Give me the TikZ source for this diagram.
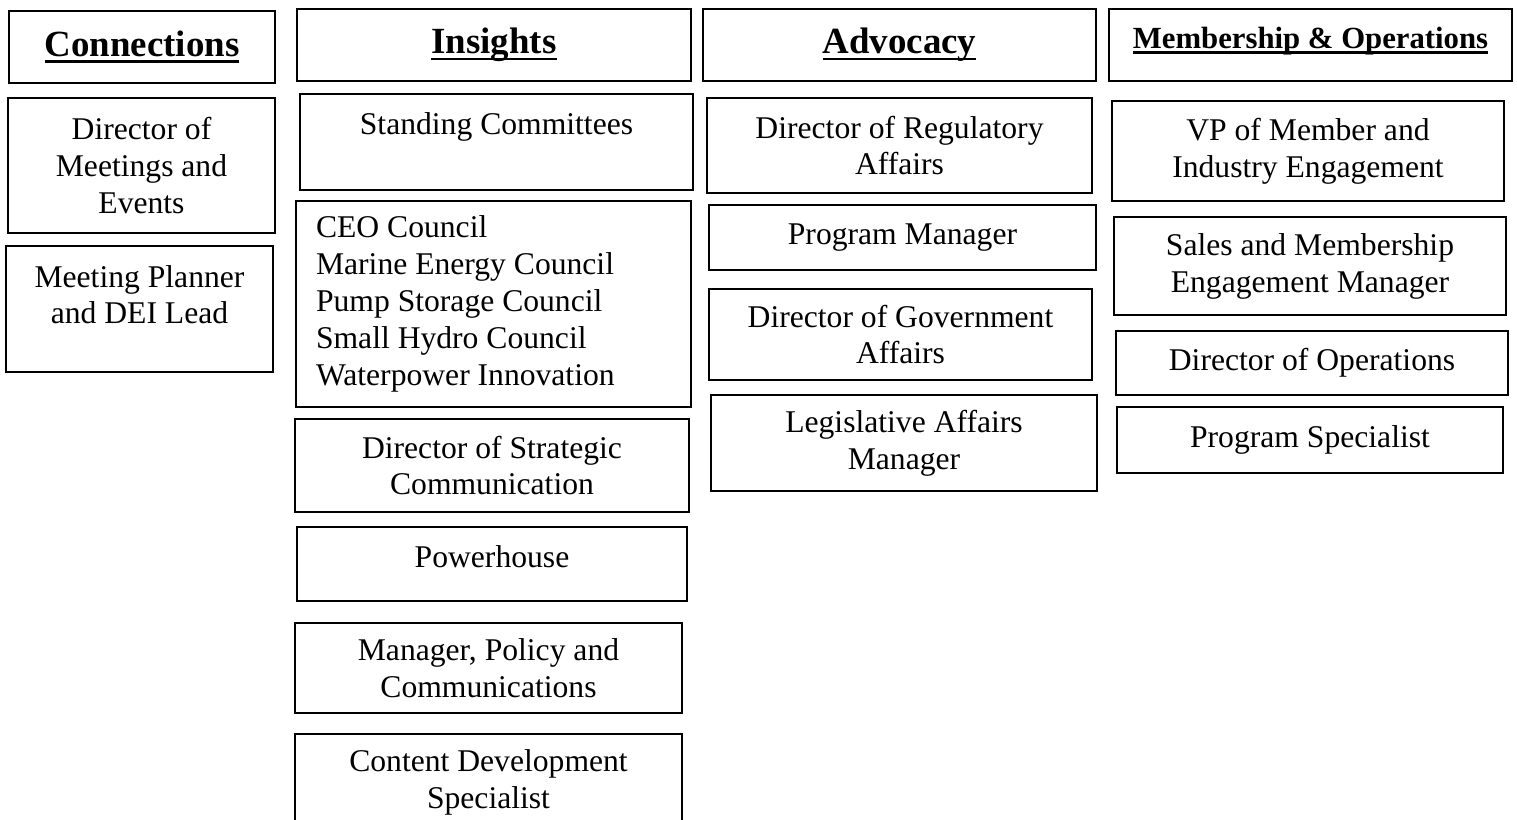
\documentclass[tikz,border=0pt]{standalone}
\usepackage{fontspec}
\setmainfont{Liberation Serif}
\newcommand{\hul}[1]{\setbox0=\hbox{#1}\rlap{\rule[-0.18em]{\wd0}{0.075em}}\box0}

\begin{document}
\begin{tikzpicture}[x=0.02cm, y=-0.02cm,
  cell/.style={draw, line width=1.2pt, inner sep=0pt, align=center,
    font=\fontsize{18}{21}\selectfont},
  headcell/.style={cell, minimum height=1.44cm,
    font=\bfseries\fontsize{21}{25}\selectfont}]
  \useasboundingbox (0,0) rectangle (1517,820);
  % Connections
  \node[headcell, minimum width=5.32cm] (conn) at (142,47) {\hul{Connections}};
  \node[cell, minimum width=5.34cm, minimum height=2.70cm] (dirmeet) at (141.5,165.5)
    {Director of\\Meetings and\\Events};
  \node[cell, minimum width=5.34cm, minimum height=2.52cm, text depth=0.58cm] (planner) at (139.5,309)
    {Meeting Planner\\and DEI Lead};
  % Insights
  \node[headcell, minimum width=7.88cm] (insights) at (494,45) {\hul{Insights}};
  \node[cell, minimum width=7.86cm, minimum height=1.92cm, text depth=0.74cm] (stand) at (496.5,142)
    {Standing Committees};
  \node[cell, minimum width=7.90cm, minimum height=4.12cm, text width=7.1cm, align=flush left] (councils) at (493.5,304)
    {CEO Council\\Marine Energy Council\\Pump Storage Council\\Small Hydro Council\\Waterpower Innovation};
  \node[cell, minimum width=7.88cm, minimum height=1.86cm] (strat) at (492,465.5)
    {Director of Strategic\\Communication};
  \node[cell, minimum width=7.80cm, minimum height=1.48cm, text depth=0.316cm] (power) at (492,564)
    {Powerhouse};
  \node[cell, minimum width=7.74cm, minimum height=1.80cm] (policy) at (488.5,668)
    {Manager, Policy and\\Communications};
  \node[cell, minimum width=7.74cm, minimum height=1.92cm] (content) at (488.5,782)
    {Content Development\\Specialist};
  % Advocacy
  \node[headcell, minimum width=7.86cm] (advocacy) at (899.5,45) {\hul{Advocacy}};
  \node[cell, minimum width=7.70cm, minimum height=1.90cm] (regul) at (899.5,145.5)
    {Director of Regulatory\\Affairs};
  \node[cell, minimum width=7.74cm, minimum height=1.30cm] (progmgr) at (902.5,237.5)
    {Program Manager};
  \node[cell, minimum width=7.66cm, minimum height=1.82cm] (govt) at (900.5,334.5)
    {Director of Government\\Affairs};
  \node[cell, minimum width=7.72cm, minimum height=1.92cm] (legis) at (904,443)
    {Legislative Affairs\\Manager};
  % Membership & Operations
  \node[headcell, minimum width=8.06cm, text depth=0.3cm, font=\bfseries\fontsize{17.5}{21}\selectfont] (members) at (1310.5,45)
    {\hul{Membership \& Operations}};
  \node[cell, minimum width=7.84cm, minimum height=2.00cm] (vp) at (1308,151)
    {VP of Member and\\Industry Engagement};
  \node[cell, minimum width=7.84cm, minimum height=1.96cm] (sales) at (1310,266)
    {Sales and Membership\\Engagement Manager};
  \node[cell, minimum width=7.84cm, minimum height=1.28cm] (ops) at (1312,363)
    {Director of Operations};
  \node[cell, minimum width=7.72cm, minimum height=1.32cm] (spec) at (1310,440)
    {Program Specialist};
\end{tikzpicture}
\end{document}
